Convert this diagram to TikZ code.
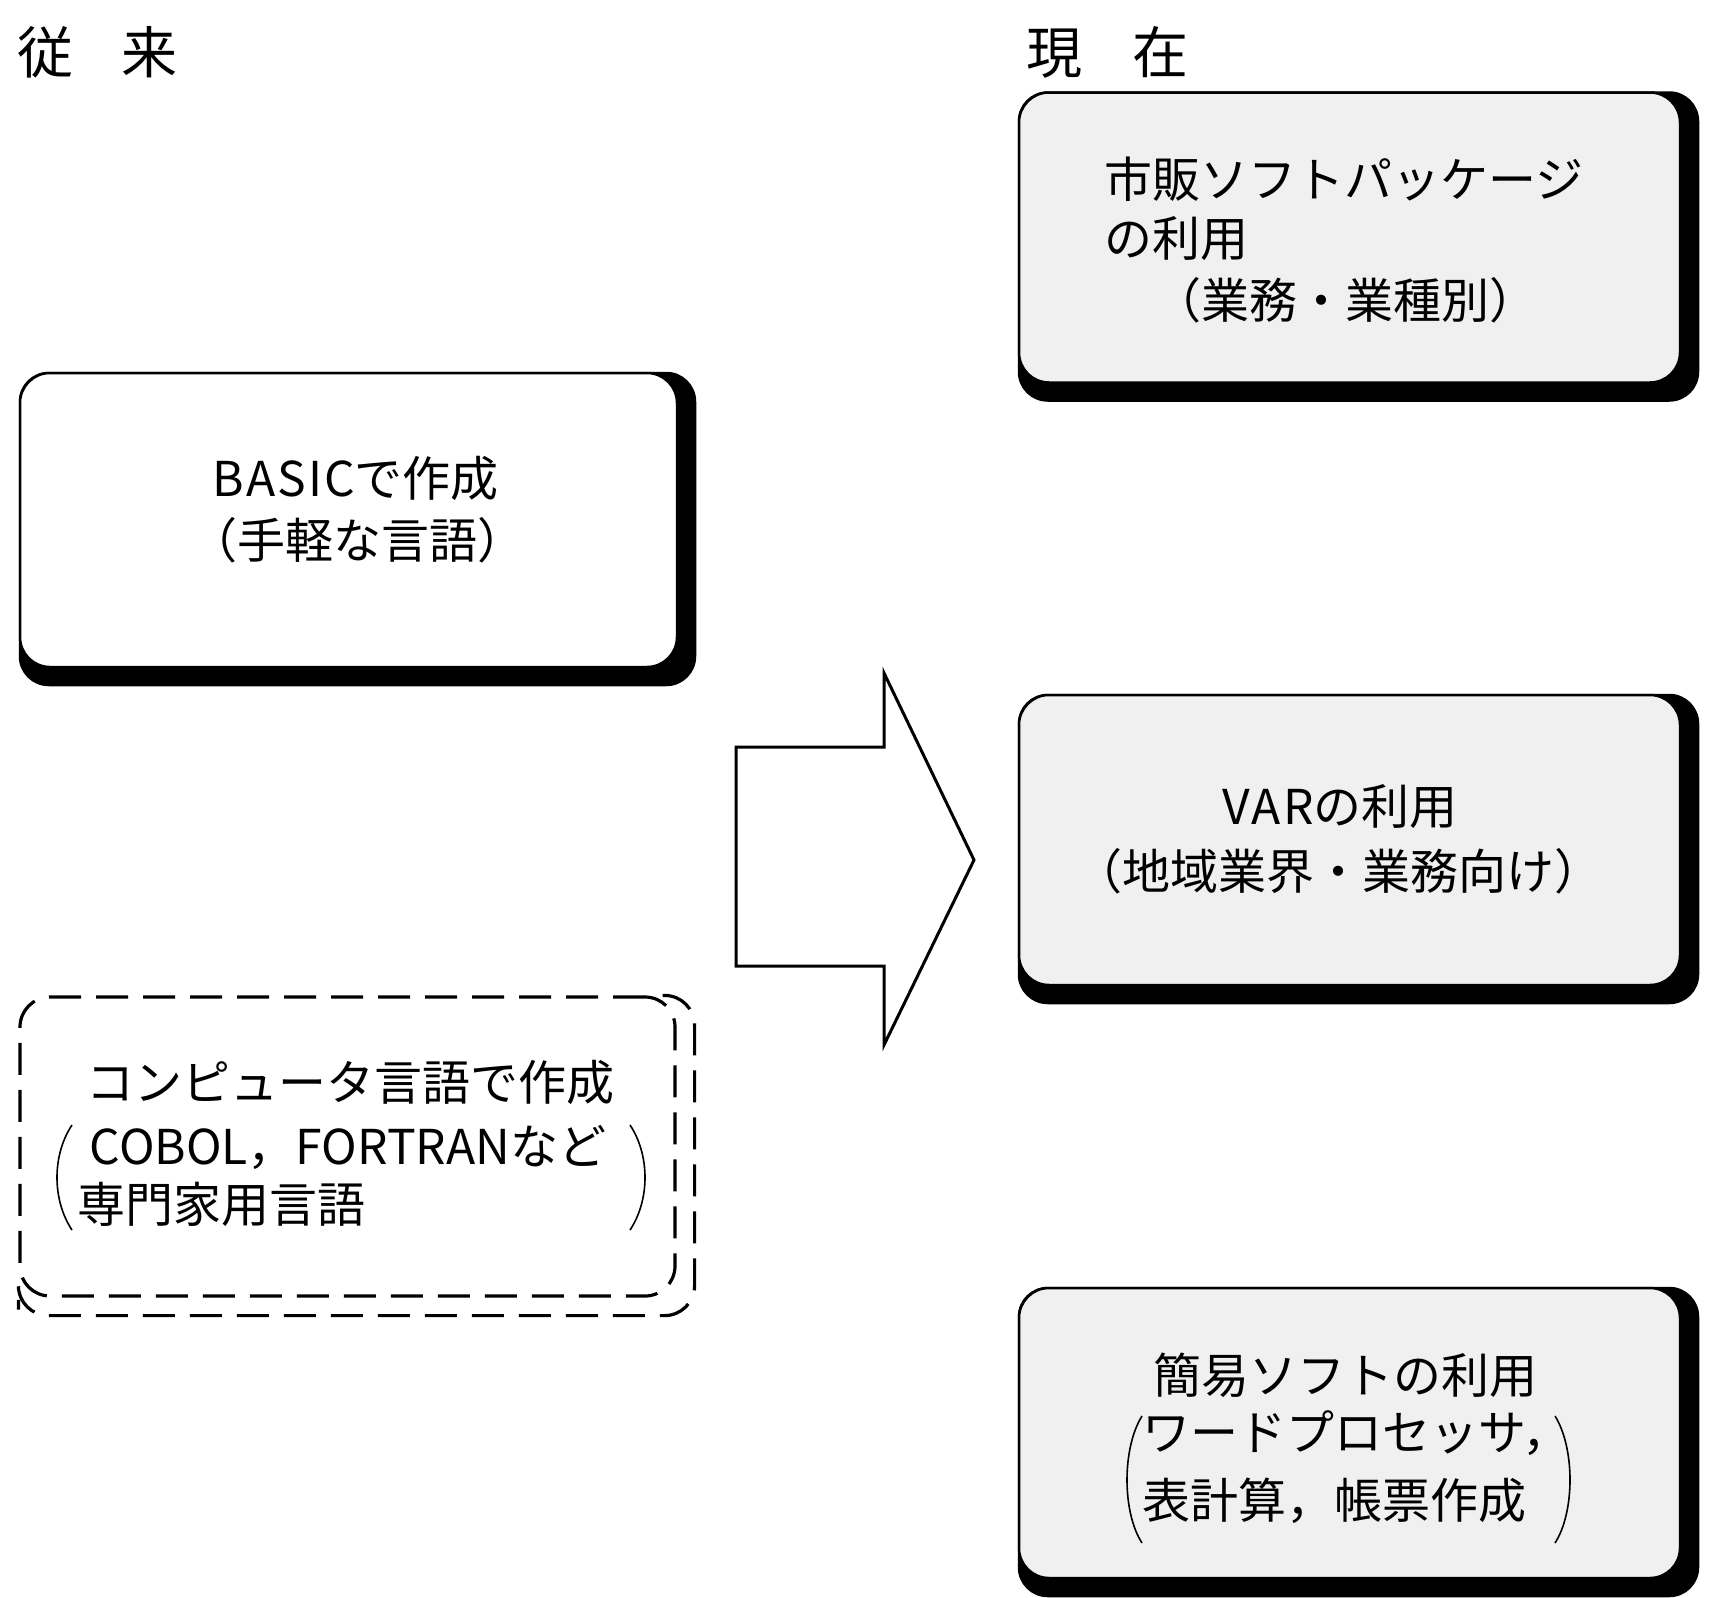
\documentclass[tikz,border=0pt]{standalone}
\usepackage{fontspec}
\setmainfont{Noto Sans CJK JP}
\usetikzlibrary{backgrounds}
\tikzset{
  frontbox/.style={draw=black, line width=2.5pt, rounded corners=30pt, inner sep=0pt},
  graybox/.style={frontbox, fill=gray!12, minimum width=661pt, minimum height=290pt},
  whitebox/.style={frontbox, fill=white, minimum width=657pt, minimum height=294pt},
  shadowfill/.style={fill=black, rounded corners=30pt},
  dashbox/.style={draw=black, line width=3.2pt, dash pattern=on 32pt off 15pt, rounded corners=30pt},
  txt/.style={inner sep=0pt, font=\fontsize{48}{56}\selectfont},
  head/.style={inner sep=0pt, font=\fontsize{56}{60}\selectfont},
  paren/.style={draw=black, line width=1.6pt},
  bigarrow/.style={draw=black, line width=3pt, fill=white, line join=miter},
}
\begin{document}
\begin{tikzpicture}[x=1pt,y=-1pt]
\useasboundingbox (0,0) rectangle (1722,1598);
\begin{scope}[on background layer]
  \fill[white] (0,0) rectangle (1722,1598);
\end{scope}

% headings
\node[head] (hold) at (97.5,52) {従\hspace{48pt}来};
\node[head] (hnew) at (1107.5,52) {現\hspace{51pt}在};

% boxes
\node[graybox] (b1) at (1349.5,237.5) {};
\node[whitebox] (b2) at (348.5,520) {};
\node[graybox] (b3) at (1349.5,840) {};
\node[graybox] (b4) at (1349.5,1433) {};
\node[dashbox, inner sep=0pt, minimum width=655pt, minimum height=299pt] (b5) at (347.5,1146.5) {};

\begin{scope}[on background layer]
  \foreach \b in {b1,b2,b3,b4}{
    \fill[shadowfill] (\b.north west) rectangle ([shift={(18,18)}]\b.south east);
  }
\end{scope}

% dashed shadow outline of b5
\coordinate (d5s) at ([xshift=-14pt]b5.north east);
\coordinate (d5c) at ([shift={(18,18)}]b5.south east);
\coordinate (d5e) at ([yshift=-12pt]b5.south west);
\draw[dashbox] (d5s) -| (d5c) -| (d5e);

% texts box 1
\node[txt, anchor=west] (t1a) at (1104,179) {市販ソフトパッケージ};
\node[txt, anchor=west] (t1b) at (1104,239) {の利用};
\node[txt] (t1c) at (1345,300) {（業務・業種別）};

% texts box 2
\node[txt] (t2a) at (356,478) {B\kern2pt A\kern2pt S\kern2pt I\kern2pt Cで作成};
\node[txt] (t2b) at (357,540) {（手軽な言語）};

% texts box 3
\node[txt] (t3a) at (1340,807) {V\kern2pt A\kern2pt Rの利用};
\node[txt] (t3b) at (1338,871) {（地域業界・業務向け）};

% texts box 4
\node[txt] (t4a) at (1345,1375) {簡易ソフトの利用};
\node[txt, anchor=west] (t4b) at (1142,1433) {ワードプロセッサ，};
\node[txt, anchor=west] (t4c) at (1142,1501) {表計算，帳票作成};
\draw[paren] (1142,1416) .. controls (1122,1448) and (1122,1512) .. (1142,1543);
\draw[paren] (1555,1416) .. controls (1575,1448) and (1575,1512) .. (1555,1543);

% texts box 5
\node[txt] (t5a) at (350,1082) {コンピュータ言語で作成};
\node[txt] (t5b) at (348,1147) {COBOL，FORTRANなど};
\node[txt, anchor=west] (t5c) at (77,1204) {専門家用言語};
\draw[paren] (72,1125) .. controls (52,1155) and (52,1200) .. (72,1230);
\draw[paren] (630,1125) .. controls (650,1155) and (650,1200) .. (630,1230);

% big arrow
\draw[bigarrow] (736,747) -- (884,747) -- (884,673) -- (974,860) -- (884,1045) -- (884,966) -- (736,966) -- cycle;
\end{tikzpicture}
\end{document}
